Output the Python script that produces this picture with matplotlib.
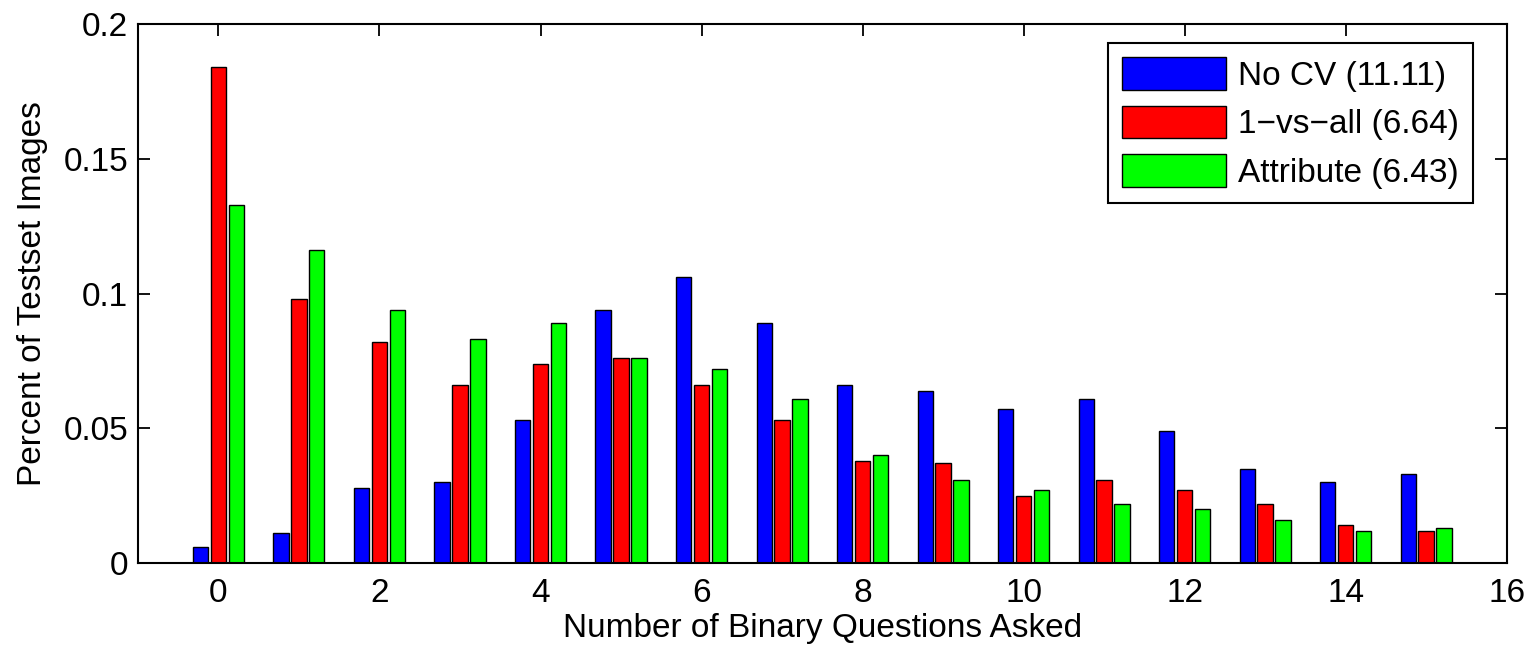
import numpy as np
import matplotlib.pyplot as plt

plt.rcParams['font.family'] = ['Liberation Sans', 'DejaVu Sans']

questions = np.arange(16)
no_cv = [0.006, 0.011, 0.028, 0.030, 0.053, 0.094, 0.106, 0.089,
         0.066, 0.064, 0.057, 0.061, 0.049, 0.035, 0.030, 0.033]
one_vs_all = [0.184, 0.098, 0.082, 0.066, 0.074, 0.076, 0.066, 0.053,
              0.038, 0.037, 0.025, 0.031, 0.027, 0.022, 0.014, 0.012]
attribute = [0.133, 0.116, 0.094, 0.083, 0.089, 0.076, 0.072, 0.061,
             0.040, 0.031, 0.027, 0.022, 0.020, 0.016, 0.012, 0.013]
labels = ['No CV (11.11)', '1\u2212vs\u2212all (6.64)', 'Attribute (6.43)']

fig = plt.figure(figsize=(15.31, 6.5), dpi=100)
ax = fig.add_axes([0.0901, 0.1338, 0.894, 0.829])
ax.set_axisbelow(True)

w = 0.19
off = 0.222
ax.bar(questions - off, no_cv, w, color='#0000ff', edgecolor='black', lw=1, label=labels[0])
ax.bar(questions, one_vs_all, w, color='#ff0000', edgecolor='black', lw=1, label=labels[1])
ax.bar(questions + off, attribute, w, color='#00ff00', edgecolor='black', lw=1, label=labels[2])

ax.set_xlim(-1, 16)
ax.set_ylim(0, 0.2)
ax.set_xticks(np.arange(0, 17, 2))
ax.set_yticks([0, 0.05, 0.1, 0.15, 0.2])
ax.set_yticklabels(['0', '0.05', '0.1', '0.15', '0.2'])
ax.tick_params(direction='in', length=8.5, width=1.3, labelsize=24, top=True, right=True)
ax.tick_params(axis='x', pad=11)
ax.tick_params(axis='y', pad=7)
for s in ax.spines.values():
    s.set_linewidth(1.5)
    s.set_zorder(3)

ax.set_xlabel('Number of Binary Questions Asked', fontsize=24, labelpad=3)
ax.set_ylabel('Percent of Testset Images', fontsize=24, labelpad=11)

leg = ax.legend(loc='upper right', fontsize=24, handlelength=3.12, handleheight=1.12,
                fancybox=False, edgecolor='black', framealpha=1, borderpad=0.42,
                labelspacing=0.42, handletextpad=0.35, borderaxespad=0,
                bbox_to_anchor=(0.9752, 0.9647))
leg.get_frame().set_linewidth(1.5)

fig.savefig('out.png', dpi=100)
